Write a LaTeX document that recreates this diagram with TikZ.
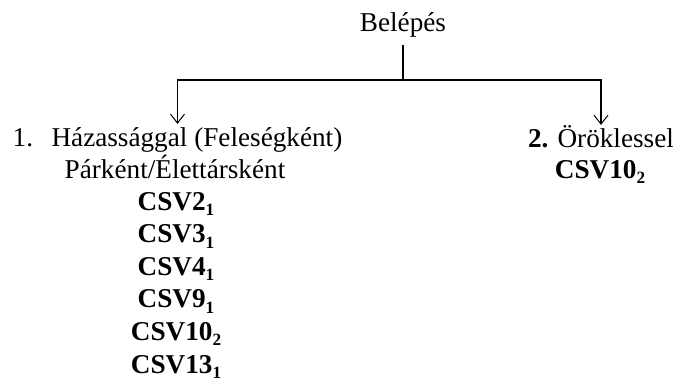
\documentclass[tikz,border=0pt]{standalone}
\usepackage{fontspec}
\setmainfont{LiberationSerif}[Extension=.ttf, UprightFont=*-Regular, BoldFont=*-Bold, ItalicFont=*-Italic]
\usetikzlibrary{positioning,arrows.meta,calc}

\newcommand{\lowidx}[1]{\raisebox{-0.2em}{\fontsize{8.6}{8.6}\selectfont #1}}

\begin{document}
\begin{tikzpicture}[
  x=0.5pt, y=-0.5pt,
  font=\fontsize{13.6}{16.3}\selectfont,
  arr/.style={-{Straight Barb[length=4.5pt, width=7pt, line width=0.5pt]}, line width=0.55pt},
  link/.style={line width=0.55pt},
  head/.style={anchor=base, text height=0.75em, text depth=0.25em},
  item/.style={anchor=base, inner sep=0pt},
  code/.style={anchor=base, inner sep=0pt, font=\fontsize{13.6}{16.3}\selectfont\bfseries}
]
\useasboundingbox (0,0) rectangle (673,380);

\node[anchor=base] (belep) at (403,32) {Belépés};
\coordinate (split) at (403,80);
\draw[link] (belep) -- (split);

% Marriage branch
\node[head] (h1) at (177.5,146) {1.\hspace{0.68em}Házassággal (Feleségként)};
\node[item] (h2) at ($(h1.base)+(-2.5,32)$) {Párként/Élettársként};
\node[code] (c1) at ($(h2.base)+(1,32)$) {CSV2\lowidx{1}};
\node[code] (c2) at ($(c1.base)+(0,32.6)$) {CSV3\lowidx{1}};
\node[code] (c3) at ($(c2.base)+(0,32.6)$) {CSV4\lowidx{1}};
\node[code] (c4) at ($(c3.base)+(0,32.6)$) {CSV9\lowidx{1}};
\node[code] (c5) at ($(c4.base)+(0,32.6)$) {CSV10\lowidx{2}};
\node[code] (c6) at ($(c5.base)+(0,32.6)$) {CSV13\lowidx{1}};

% Inheritance branch
\node[head] (i1) at (601,147) {\textbf{2.} Öröklessel};
\node[code] (i2) at ($(i1.base)+(-1,31.5)$) {CSV10\lowidx{2}};

\draw[arr] (split) -| (h1.north);
\draw[arr] (split) -| (i1.north);

\end{tikzpicture}
\end{document}
